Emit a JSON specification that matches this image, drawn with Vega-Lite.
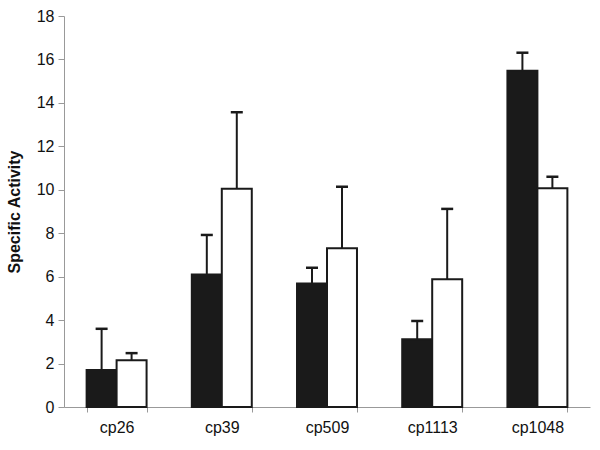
{
  "$schema": "https://vega.github.io/schema/vega-lite/v6.json",
  "width": 526,
  "height": 391,
  "autosize": "none",
  "padding": {"left": 64, "top": 16, "right": 10, "bottom": 43},
  "background": "white",
  "config": {
    "view": {"stroke": null},
    "font": "Liberation Sans"
  },
  "data": {
    "values": [
      {"construct": "cp26", "series": "A", "value": 1.7, "err": 3.6},
      {"construct": "cp26", "series": "B", "value": 2.15, "err": 2.48},
      {"construct": "cp39", "series": "A", "value": 6.1, "err": 7.92},
      {"construct": "cp39", "series": "B", "value": 10.05, "err": 13.57},
      {"construct": "cp509", "series": "A", "value": 5.69, "err": 6.41},
      {"construct": "cp509", "series": "B", "value": 7.31, "err": 10.14},
      {"construct": "cp1113", "series": "A", "value": 3.12, "err": 3.96},
      {"construct": "cp1113", "series": "B", "value": 5.88, "err": 9.12},
      {"construct": "cp1048", "series": "A", "value": 15.48, "err": 16.31},
      {"construct": "cp1048", "series": "B", "value": 10.07, "err": 10.6}
    ]
  },
  "encoding": {
    "x": {
      "field": "construct",
      "type": "nominal",
      "sort": ["cp26", "cp39", "cp509", "cp1113", "cp1048"],
      "scale": {"paddingInner": 0.43, "paddingOuter": 0.215},
      "axis": {
        "title": null,
        "labelAngle": 0,
        "labelFontSize": 16,
        "labelColor": "#111",
        "labelPadding": 7,
        "domainColor": "#999",
        "tickColor": "#999",
        "tickSize": 5,
        "tickBand": "extent"
      }
    },
    "xOffset": {"field": "series", "type": "nominal", "sort": ["A", "B"], "scale": {"paddingInner": 0, "paddingOuter": 0}}
  },
  "layer": [
    {
      "mark": {"type": "rule", "stroke": "#1a1a1a", "strokeWidth": 2},
      "encoding": {
        "y": {"field": "value", "type": "quantitative"},
        "y2": {"field": "err"}
      }
    },
    {
      "mark": {"type": "tick", "color": "#1a1a1a", "size": 12, "thickness": 2.5, "opacity": 1},
      "encoding": {
        "y": {"field": "err", "type": "quantitative"}
      }
    },
    {
      "mark": {"type": "bar", "stroke": "#1a1a1a", "strokeWidth": 2},
      "encoding": {
        "y": {
          "field": "value",
          "type": "quantitative",
          "scale": {"domain": [0, 18], "nice": false},
          "axis": {
            "title": "Specific Activity",
            "titleFontSize": 16,
            "titleFontWeight": "bold",
            "titleColor": "#111",
            "titlePadding": 14,
            "values": [0, 2, 4, 6, 8, 10, 12, 14, 16, 18],
            "grid": false,
            "labelFontSize": 16,
            "labelColor": "#111",
            "labelPadding": 4,
            "domainColor": "#999",
            "tickColor": "#999",
            "tickSize": 6
          }
        },
        "fill": {
          "field": "series",
          "type": "nominal",
          "scale": {"domain": ["A", "B"], "range": ["#1a1a1a", "#ffffff"]},
          "legend": null
        }
      }
    }
  ]
}
